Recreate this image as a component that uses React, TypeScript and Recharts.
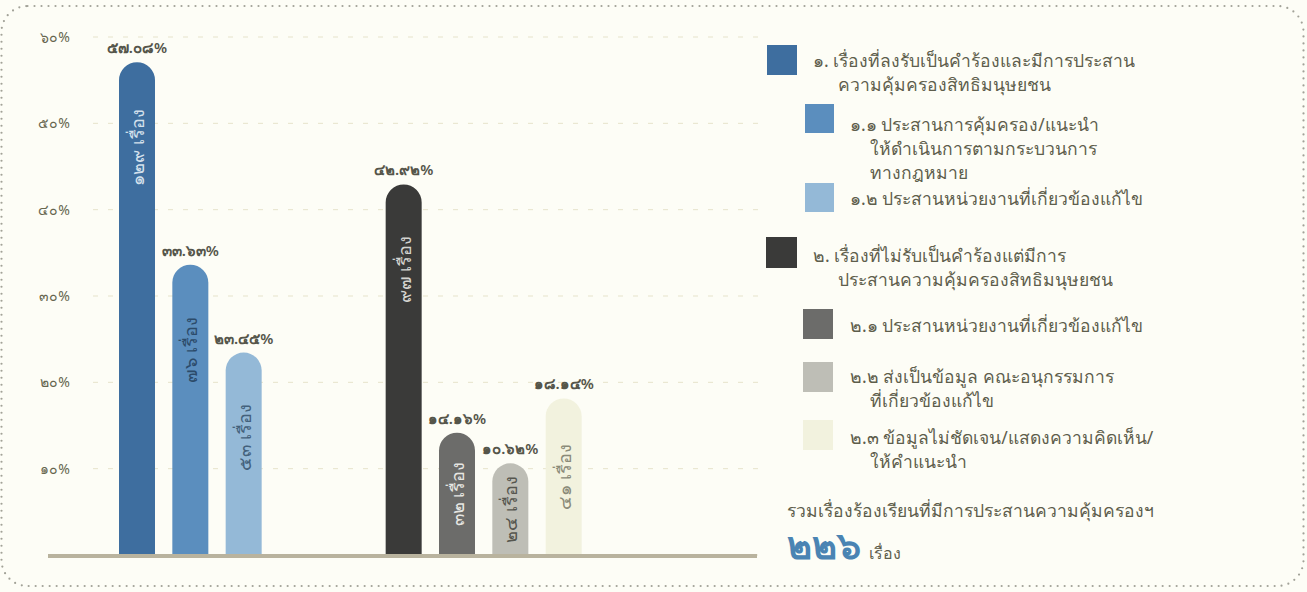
import React from "react";
import {
  BarChart,
  Bar,
  XAxis,
  YAxis,
  CartesianGrid,
  ReferenceLine,
  LabelList,
  Cell,
} from "recharts";

// values (percent of 226 cases)
const categories = ["๑.", "๑.๑", "๑.๒", "๒.", "๒.๑", "๒.๒", "๒.๓"];
const groups = [1, 1, 1, 2, 2, 2, 2];
const percents = [57.08, 33.63, 23.45, 42.92, 14.16, 10.62, 18.14];
const counts = [129, 76, 53, 97, 32, 24, 41];
const yTicks = [10, 20, 30, 40, 50, 60];

const legendLines = [
  ["๑. เรื่องที่ลงรับเป็นคำร้องและมีการประสาน", "ความคุ้มครองสิทธิมนุษยชน"],
  ["๑.๑ ประสานการคุ้มครอง/แนะนำ", "ให้ดำเนินการตามกระบวนการ", "ทางกฎหมาย"],
  ["๑.๒ ประสานหน่วยงานที่เกี่ยวข้องแก้ไข"],
  ["๒. เรื่องที่ไม่รับเป็นคำร้องแต่มีการ", "ประสานความคุ้มครองสิทธิมนุษยชน"],
  ["๒.๑ ประสานหน่วยงานที่เกี่ยวข้องแก้ไข"],
  ["๒.๒ ส่งเป็นข้อมูล คณะอนุกรรมการ", "ที่เกี่ยวข้องแก้ไข"],
  ["๒.๓ ข้อมูลไม่ชัดเจน/แสดงความคิดเห็น/", "ให้คำแนะนำ"],
];
const totalLabel = "รวมเรื่องร้องเรียนที่มีการประสานความคุ้มครองฯ";
const total = 226;
const unit = "เรื่อง";

const FILLS = ["#3e6e9f", "#5b8ebe", "#94b9d7", "#3a3a39", "#6c6c6a", "#bebeb6", "#f2f2de"];
const INNER = ["#d3e0ec", "#2c4b6a", "#43617c", "#d4d4d0", "#e6e6e2", "#56564f", "#8a8a78"];
const TEXT = "#5e5e4c";
const FONT = '"Noto Sans", sans-serif';

const thai = (s: string | number) =>
  String(s).replace(/[0-9]/g, (d) => "๐๑๒๓๔๕๖๗๘๙"[+d]);

// category slots, with empty slots between and after the two groups
const rows: any[] = [];
categories.forEach((c, i) => {
  if (i > 0 && groups[i] !== groups[i - 1]) rows.push({ name: "gap-a" }, { name: "gap-b" });
  rows.push({ name: c, pct: percents[i], i });
});
rows.push({ name: "gap-c" }, { name: "gap-d" }, { name: "gap-e" });

function InnerLabel(props: any) {
  const { x, y, width, height, value } = props;
  if (value == null || height == null) return null;
  const cx = x + width / 2;
  const cy = y + Math.min(height / 2, 85);
  return (
    <text
      x={cx}
      y={cy}
      transform={`rotate(-90 ${cx} ${cy})`}
      textAnchor="middle"
      dominantBaseline="central"
      fontSize={18}
      fontFamily={FONT}
      fill={INNER[value]}
    >
      {thai(counts[value])} {unit}
    </text>
  );
}

const SQUARES = [
  { l: 767, t: 45, s: 30, tx: 813, ind: 25, cy: 60 },
  { l: 805, t: 104, s: 29, tx: 850, ind: 20, cy: 124 },
  { l: 805, t: 183, s: 29, tx: 850, ind: 20, cy: 198 },
  { l: 766, t: 237, s: 31, tx: 813, ind: 25, cy: 255 },
  { l: 803, t: 309, s: 30, tx: 850, ind: 20, cy: 325 },
  { l: 803, t: 362, s: 30, tx: 850, ind: 20, cy: 376 },
  { l: 803, t: 420, s: 30, tx: 850, ind: 20, cy: 437 },
];

function SideLegend() {
  return (
    <>
      {legendLines.map((lines, i) => {
        const p = SQUARES[i];
        return (
          <React.Fragment key={i}>
            <div
              style={{
                position: "absolute",
                left: p.l,
                top: p.t,
                width: p.s,
                height: p.s,
                background: FILLS[i],
              }}
            />
            <div
              style={{
                position: "absolute",
                left: p.tx,
                top: p.cy - 12,
                lineHeight: "24px",
                fontSize: 17.5,
                color: TEXT,
                whiteSpace: "nowrap",
              }}
            >
              {lines.map((ln, k) => (
                <div key={k} style={{ paddingLeft: k ? p.ind : 0 }}>
                  {ln}
                </div>
              ))}
            </div>
          </React.Fragment>
        );
      })}
      <div
        style={{
          position: "absolute",
          left: 787,
          top: 498,
          fontSize: 17.5,
          lineHeight: "24px",
          color: TEXT,
          whiteSpace: "nowrap",
        }}
      >
        {totalLabel}
      </div>
      <div
        style={{
          position: "absolute",
          left: 787,
          top: 524,
          whiteSpace: "nowrap",
          lineHeight: "40px",
        }}
      >
        <span style={{ fontSize: 38, fontWeight: 700, color: "#4a84b3" }}>{thai(total)}</span>
        <span style={{ fontSize: 16, color: TEXT, marginLeft: 8 }}>{unit}</span>
      </div>
    </>
  );
}

export default function App() {
  return (
    <div
      style={{
        position: "absolute",
        left: 0,
        top: 0,
        width: 1307,
        height: 592,
        background: "#fdfdf6",
        fontFamily: FONT,
        overflow: "hidden",
      }}
    >
      <svg width={1307} height={592} style={{ position: "absolute", left: 0, top: 0 }}>
        <rect
          x={1.5}
          y={6}
          width={1302}
          height={580}
          rx={26}
          fill="none"
          stroke="#a2a298"
          strokeWidth={2.2}
          strokeDasharray="0 7"
          strokeLinecap="round"
        />
      </svg>
      <div style={{ position: "absolute", left: 0, top: 0 }}>
        <BarChart
          width={780}
          height={592}
          data={rows}
          margin={{ top: 37, right: 20, bottom: 37, left: 23 }}
        >
          <CartesianGrid vertical={false} stroke="#e6e3cb" strokeDasharray="5 10" />
          <XAxis dataKey="name" hide padding={{ left: 17, right: 10 }} />
          <YAxis
            domain={[0, 60]}
            ticks={yTicks}
            width={70}
            axisLine={false}
            tickLine={false}
            tickSize={0}
            tickMargin={23}
            tick={{ fill: "#66664f", fontSize: 14, fontFamily: FONT }}
            tickFormatter={(v: number) => `${thai(v)}%`}
          />
          <Bar dataKey="pct" barSize={36} radius={[18, 18, 0, 0]} isAnimationActive={false}>
            {rows.map((r, k) => (
              <Cell key={k} fill={r.i != null ? FILLS[r.i] : "none"} />
            ))}
            <LabelList
              dataKey="pct"
              position="top"
              offset={9}
              fill="#55554a"
              fontSize={15}
              fontWeight={600}
              fontFamily={FONT}
              formatter={(v: any) => (v == null ? "" : `${thai(Number(v).toFixed(2))}%`)}
            />
            <LabelList dataKey={(r: any) => r.i} content={<InnerLabel />} />
          </Bar>
          <ReferenceLine
            y={0}
            shape={(p: any) => (
              <line
                x1={p.x1 - 45}
                y1={p.y1 + 1}
                x2={p.x2 - 3}
                y2={p.y2 + 1}
                stroke="#b9b39e"
                strokeWidth={4}
              />
            )}
          />
        </BarChart>
      </div>
      <SideLegend />
    </div>
  );
}
